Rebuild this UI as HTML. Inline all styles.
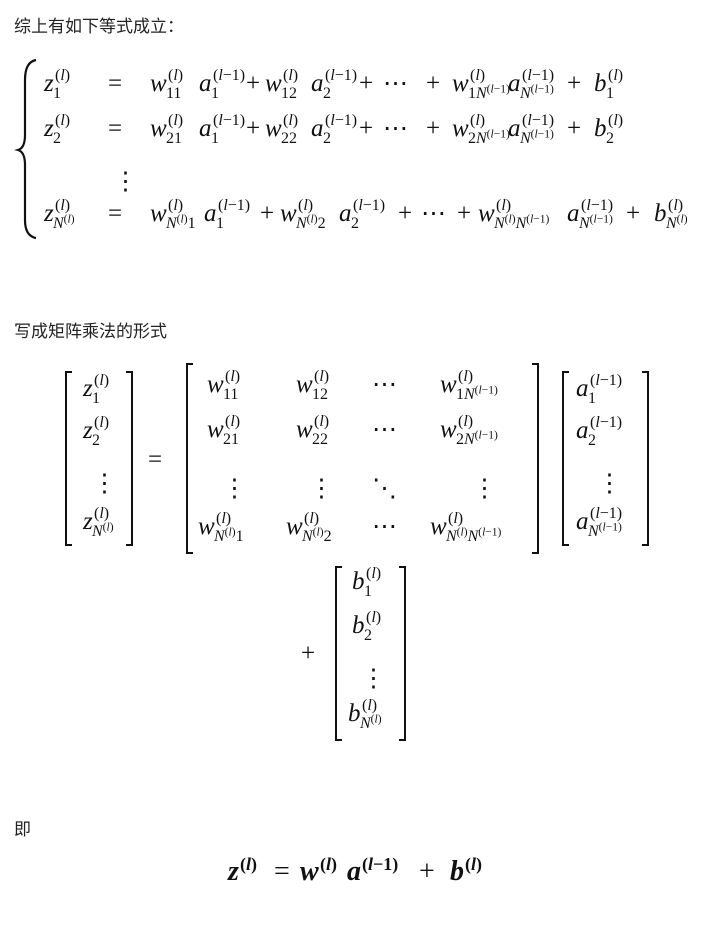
<!DOCTYPE html>
<html><head><meta charset="utf-8">
<style>
body{margin:0;width:718px;height:933px;background:#fff;position:relative;overflow:hidden;font-family:"Liberation Serif",serif;color:#111}
.cn{position:absolute;font-family:"Liberation Sans","Noto Sans CJK SC",sans-serif;font-size:17px;color:#222}
.term{position:absolute;width:0;height:0}
.term span{position:absolute;white-space:nowrap;line-height:1}
.s sup{font-size:0.72em;vertical-align:0.5em;line-height:0}
.op{position:absolute;line-height:1;white-space:nowrap}
svg{position:absolute;left:0;top:0}
.bold{font-weight:bold}
</style></head>
<body>
<div class="cn" style="left:14px;top:12px">综上有如下等式成立：</div>
<div class="cn" style="left:14px;top:317px">写成矩阵乘法的形式</div>
<div class="cn" style="left:14px;top:815px">即</div>
<svg width="718" height="933">
<path d="M36 60 Q25 62 25 80 L25 135 Q25 148 18 150 Q25 152 25 165 L25 220 Q25 236 36 238" fill="none" stroke="#111" stroke-width="2.2"/>
<g fill="none" stroke="#111" stroke-width="2">
<path d="M72 372 L66 372 L66 545 L72 545"/>
<path d="M126 372 L132 372 L132 545 L126 545"/>
<path d="M193 364 L187 364 L187 553 L193 553"/>
<path d="M532 364 L538 364 L538 553 L532 553"/>
<path d="M569 372 L563 372 L563 545 L569 545"/>
<path d="M642 372 L648 372 L648 545 L642 545"/>
<path d="M342 567 L336 567 L336 740 L342 740"/>
<path d="M399 567 L405 567 L405 740 L399 740"/>
</g>
</svg>
<script>
const L='(<i>l</i>)', L1='(<i>l</i>−1)';
const NL='<i>N</i><sup>'+L+'</sup>', NL1='<i>N</i><sup>'+L1+'</sup>';
function term(name,x,y,base,sup,sub,fs,bold){
  fs=fs||25;
  const el=document.createElement('div');
  el.className='term'+(bold?' bold':'');
  
  
  el.style.left=x+'px'; el.style.top=y+'px';
  const b=document.createElement('span');
  b.style.fontSize=fs+'px';
  b.innerHTML='<i>'+base+'</i>';
  b.style.top=(-0.84*fs)+'px'; b.style.left='0px';
  el.appendChild(b);
  document.body.appendChild(el);
  const w=b.offsetWidth;
  const ss=Math.round(fs*0.64);
  if(sup){const s=document.createElement('span');s.className='s';s.style.fontSize=ss+'px';s.innerHTML=sup;
    s.style.left=(w+1)+'px';s.style.top=(-fs*0.42-0.84*ss)+'px';el.appendChild(s);}
  if(sub){const s=document.createElement('span');s.className='s';s.style.fontSize=ss+'px';s.innerHTML=sub;
    s.style.left=(w-1)+'px';s.style.top=(fs*0.3-0.84*ss)+'px';el.appendChild(s);}
}
function op(name,x,y,t,fs){
  fs=fs||25;
  const el=document.createElement('div');
  el.className='op';
  
  
  el.style.left=x+'px'; el.style.top=(y-0.84*fs)+'px'; el.style.fontSize=fs+'px';
  el.innerHTML=t;
  document.body.appendChild(el);
}
[[92,'1'],[137,'2']].forEach(([y,i])=>{
  term('z'+i,44,y,'z',L,i);
  op('equals-'+i,108,y,'=');
  term('w'+i+'1',150,y,'w',L,i+'1');
  term('a1-r'+i,199,y,'a',L1,'1');
  op('plus',246,y,'+');
  term('w'+i+'2',265,y,'w',L,i+'2');
  term('a2-r'+i,311,y,'a',L1,'2');
  op('plus',359,y,'+');
  op('cdots',383,y,'⋯');
  op('plus',426,y,'+');
  term('w'+i+'N',452,y,'w',L,i+NL1);
  term('aN-r'+i,508,y,'a',L1,NL1);
  op('plus',567,y,'+');
  term('b'+i,594,y,'b',L,i);
});
op('vdots-system',113,190,'⋮');
term('zN',44,222,'z',L,NL);
op('equals-N',108,222,'=');
term('wN1',150,222,'w',L,NL+'1');
term('a1-rN',204,222,'a',L1,'1');
op('plus',260,222,'+');
term('wN2',280,222,'w',L,NL+'2');
term('a2-rN',339,222,'a',L1,'2');
op('plus',398,222,'+');
op('cdots',421,222,'⋯');
op('plus',457,222,'+');
term('wNN',478,222,'w',L,NL+NL1);
term('aN-rN',567,222,'a',L1,NL1);
op('plus',626,222,'+');
term('bN',654,222,'b',L,NL);
term('z-vec-1',83,397,'z',L,'1');
term('z-vec-2',83,439,'z',L,'2');
op('z-vec-vdots',92,492,'⋮');
term('z-vec-N',83,530,'z',L,NL);
op('matrix-equals',148,468,'=');
term('W-11',207,393,'w',L,'11');
term('W-12',296,393,'w',L,'12');
op('W-cdots-1',372,393,'⋯');
term('W-1N',440,393,'w',L,'1'+NL1);
term('W-21',207,438,'w',L,'21');
term('W-22',296,438,'w',L,'22');
op('W-cdots-2',372,438,'⋯');
term('W-2N',440,438,'w',L,'2'+NL1);
op('W-vdots-1',222,497,'⋮');
op('W-vdots-2',309,497,'⋮');
op('W-ddots',372,497,'⋱');
op('W-vdots-4',472,497,'⋮');
term('W-N1',198,535,'w',L,NL+'1');
term('W-N2',286,535,'w',L,NL+'2');
op('W-cdots-N',372,535,'⋯');
term('W-NN',430,535,'w',L,NL+NL1);
term('a-vec-1',576,397,'a',L1,'1');
term('a-vec-2',576,439,'a',L1,'2');
op('a-vec-vdots',597,492,'⋮');
term('a-vec-N',576,530,'a',L1,NL1);
op('plus-b',301,662,'+');
term('b-vec-1',352,590,'b',L,'1');
term('b-vec-2',352,634,'b',L,'2');
op('b-vec-vdots',361,687,'⋮');
term('b-vec-N',348,722,'b',L,NL);
term('final-z',228,882,'z',L,'',28,true);
op('final-equals',274,882,'=',28);
term('final-w',300,882,'w',L,'',28,true);
term('final-a',347,882,'a',L1,'',28,true);
op('final-plus',419,882,'+',28);
term('final-b',450,882,'b',L,'',28,true);
</script>
</body></html>
